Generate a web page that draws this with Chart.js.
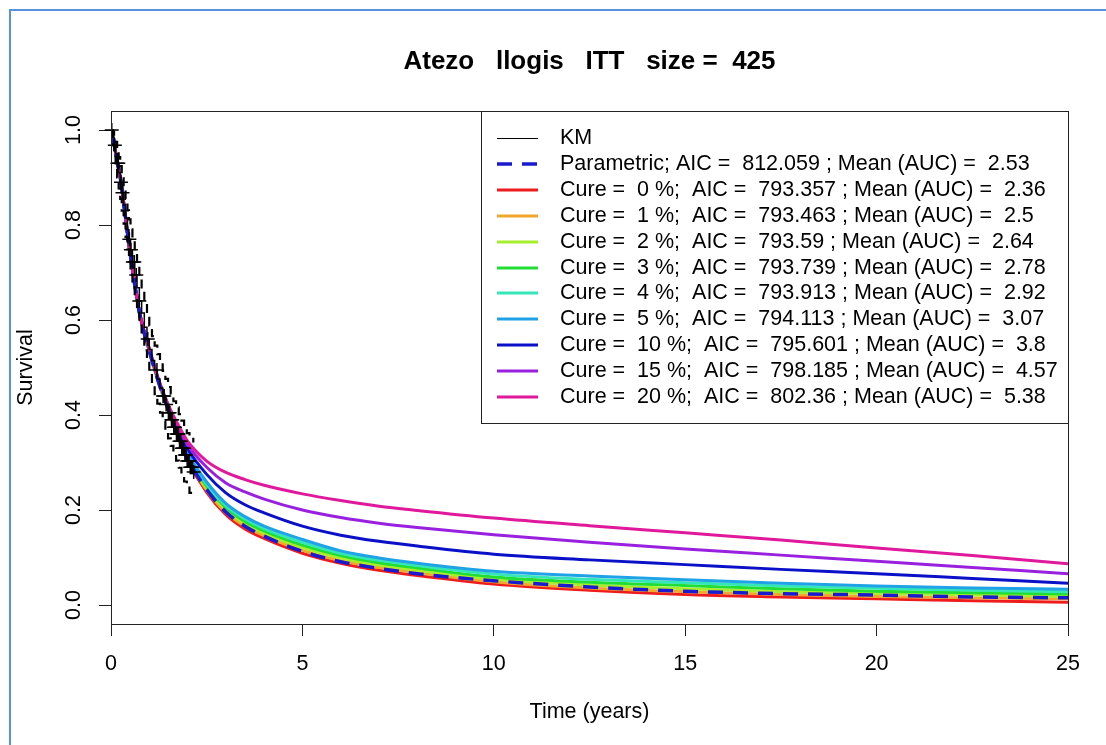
<!DOCTYPE html>
<html lang="en">
<head>
<meta charset="UTF-8">
<title>Atezo llogis ITT - survival extrapolation</title>
<script src="https://cdn.jsdelivr.net/npm/chart.js@4.4.0/dist/chart.umd.min.js"></script>
<style>
  html, body { margin: 0; padding: 0; background: #fff; overflow: hidden; }
  #wrap { position: relative; width: 1106px; height: 745px; }
  #frame { position: absolute; left: 9px; top: 9px; width: 1200px; height: 800px;
           border: 2px solid #5593dc; pointer-events: none; }
  canvas { position: absolute; left: 0; top: 0; }
</style>
</head>
<body>
<div id="wrap">
  <canvas id="survChart" width="1106" height="745"></canvas>
  <div id="frame"></div>
</div>
<script>
// ---- data ----
const mainTitle = 'Atezo   llogis   ITT   size =  425';
const xTicks = [0, 5, 10, 15, 20, 25];
const yTicks = [0, 0.2, 0.4, 0.6, 0.8, 1.0];

// time grid (years) for the fitted curves
const fitTime = [0, 0.25, 0.5, 0.75, 1, 1.25, 1.5, 1.75, 2, 2.5, 3, 3.5, 4, 5, 6, 7, 8, 10, 12.5, 15, 17.5, 20, 22.5, 25];

const survParam = [1, .895, .74, .612, .535, .467, .411, .357, .309, .243, .196, .166, .145, .113, .091, .077, .066, .051, .038, .029, .024, .021, .017, .015];
const cure0  = [1, .895, .74, .612, .535, .467, .410, .354, .305, .237, .190, .160, .140, .109, .088, .073, .062, .044, .031, .022, .017, .013, .009, .006];
const cure1  = [1, .895, .74, .612, .535, .467, .411, .356, .308, .242, .195, .166, .146, .115, .093, .079, .068, .049, .036, .028, .022, .018, .015, .013];
const cure2  = [1, .895, .74, .612, .535, .468, .412, .358, .311, .246, .200, .171, .151, .121, .099, .084, .073, .054, .042, .034, .028, .024, .021, .018];
const cure3  = [1, .895, .74, .612, .536, .468, .413, .360, .314, .250, .205, .176, .156, .126, .104, .089, .078, .059, .048, .041, .034, .029, .026, .023];
const cure4  = [1, .895, .74, .613, .536, .469, .414, .362, .317, .254, .209, .181, .161, .132, .109, .094, .083, .065, .054, .047, .040, .035, .031, .028];
const cure5  = [1, .895, .74, .613, .537, .470, .415, .364, .320, .259, .214, .186, .166, .138, .114, .099, .088, .071, .061, .053, .046, .040, .036, .033];
const cure10 = [1, .895, .74, .614, .538, .471, .417, .369, .329, .275, .236, .211, .194, .166, .147, .134, .124, .107, .095, .085, .075, .066, .056, .046];
const cure15 = [1, .895, .741, .614, .539, .472, .419, .374, .337, .290, .257, .238, .223, .200, .184, .172, .163, .148, .132, .118, .105, .092, .079, .066];
const cure20 = [1, .895, .741, .615, .540, .473, .421, .380, .345, .303, .279, .264, .252, .234, .220, .208, .199, .183, .167, .152, .137, .120, .104, .087];

const cureLevels = [0, 1, 2, 3, 4, 5, 10, 15, 20];
const cureAIC    = ['793.357', '793.463', '793.59', '793.739', '793.913', '794.113', '795.601', '798.185', '802.36'];
const cureMean   = ['2.36', '2.5', '2.64', '2.78', '2.92', '3.07', '3.8', '4.57', '5.38'];
const cureColors = ['#ee1c1c', '#f4a52c', '#a8ee2c', '#22dd33', '#34e6b8', '#20a2e6', '#0a10c8', '#9a20e0', '#e0189c'];
const paramAIC = '812.059';
const paramMean = '2.53';

// Kaplan-Meier estimate with pointwise confidence limits
const kmTime  = [0, 0.04, 0.08, 0.12, 0.16, 0.2, 0.24, 0.28, 0.33, 0.38, 0.43, 0.47, 0.51, 0.56, 0.62, 0.68, 0.74, 0.8, 0.87, 0.94, 1.0, 1.07, 1.14, 1.21, 1.28, 1.35, 1.42, 1.49, 1.56, 1.63, 1.7, 1.77, 1.84, 1.91, 1.98, 2.05, 2.15];
const kmSurv  = [1.0, 0.985, 0.968, 0.95, 0.93, 0.91, 0.89, 0.868, 0.842, 0.815, 0.79, 0.77, 0.748, 0.722, 0.695, 0.668, 0.64, 0.615, 0.585, 0.56, 0.538, 0.515, 0.495, 0.476, 0.457, 0.44, 0.422, 0.405, 0.39, 0.374, 0.36, 0.345, 0.33, 0.316, 0.303, 0.29, 0.28];
const kmUpper = [1.0, 0.997, 0.988, 0.975, 0.96, 0.943, 0.924, 0.904, 0.88, 0.855, 0.831, 0.812, 0.791, 0.766, 0.74, 0.714, 0.687, 0.663, 0.634, 0.61, 0.588, 0.566, 0.546, 0.528, 0.509, 0.493, 0.476, 0.459, 0.445, 0.429, 0.416, 0.402, 0.388, 0.375, 0.362, 0.35, 0.342];
const kmLower = [1.0, 0.97, 0.948, 0.925, 0.9, 0.877, 0.855, 0.83, 0.803, 0.775, 0.749, 0.728, 0.705, 0.678, 0.65, 0.622, 0.593, 0.567, 0.536, 0.51, 0.488, 0.464, 0.444, 0.424, 0.405, 0.387, 0.368, 0.351, 0.335, 0.319, 0.304, 0.289, 0.274, 0.26, 0.247, 0.236, 0.232];

// censored observations
const censTime = [0.02, 0.1, 0.17, 0.19, 0.26, 0.3, 0.48, 0.52, 0.57, 0.61, 0.66, 0.74, 0.96, 1.2, 1.36, 1.39, 1.44, 1.5, 1.53, 1.58, 1.6, 1.64, 1.67, 1.71, 1.74, 1.76, 1.79, 1.82, 1.85, 1.88, 1.9, 1.93, 1.96, 1.99, 2.02, 2.04, 2.07, 2.1, 2.13, 2.16];
const censSurv = [1.0, 0.968, 0.93, 0.93, 0.89, 0.868, 0.77, 0.748, 0.722, 0.722, 0.695, 0.64, 0.56, 0.495, 0.44, 0.44, 0.422, 0.405, 0.405, 0.39, 0.39, 0.374, 0.374, 0.36, 0.36, 0.36, 0.345, 0.345, 0.33, 0.33, 0.33, 0.316, 0.316, 0.303, 0.303, 0.303, 0.29, 0.29, 0.29, 0.28];

// ---- helpers ----
const toPts = (xs, ys) => xs.map((x, i) => ({ x: x, y: ys[i] }));
const FONT = '"Liberation Sans", Arial, Helvetica, sans-serif';
const FSIZE = 21.5;
const cureSeries = [cure0, cure1, cure2, cure3, cure4, cure5, cure10, cure15, cure20];

// lower "order" is drawn on top: KM bits, then the parametric fit, then cure fits (20% above 0%)
const datasets = [];
datasets.push({
  label: 'KM', legendText: 'KM', data: toPts(kmTime, kmSurv), order: 0,
  borderColor: '#000', borderWidth: 1.5, stepped: true, pointRadius: 0, clip: false
});
datasets.push({
  label: 'Parametric', order: 1,
  legendText: 'Parametric; AIC =  ' + paramAIC + ' ; Mean (AUC) =  ' + paramMean,
  data: toPts(fitTime, survParam),
  borderColor: '#1a1ad0', borderWidth: 3.5, borderDash: [15, 10],
  pointRadius: 0, cubicInterpolationMode: 'monotone'
});
cureLevels.forEach((c, i) => {
  datasets.push({
    label: 'Cure ' + c, order: 20 - i,
    legendText: 'Cure =  ' + c + ' %;  AIC =  ' + cureAIC[i] + ' ; Mean (AUC) =  ' + cureMean[i],
    data: toPts(fitTime, cureSeries[i]),
    borderColor: cureColors[i], borderWidth: 3,
    pointRadius: 0, cubicInterpolationMode: 'monotone'
  });
});
datasets.push(
  { label: 'censored', type: 'scatter', data: toPts(censTime, censSurv), order: 0,
    pointStyle: 'cross', pointRadius: 7, borderColor: '#000', borderWidth: 1.5,
    showLine: false, clip: false },
  { label: 'KM upper', data: toPts(kmTime, kmUpper), borderColor: '#000', borderWidth: 2.2, order: 0,
    borderDash: [9, 6], stepped: true, pointRadius: 0, clip: false },
  { label: 'KM lower', data: toPts(kmTime, kmLower), borderColor: '#000', borderWidth: 2.2, order: 0,
    borderDash: [9, 6], stepped: true, pointRadius: 0, clip: false }
);

// box around the plot region, main title and the legend in the top right corner
const plotDecor = {
  id: 'plotDecor',
  afterDatasetsDraw(chart) {
    const { ctx, chartArea: a } = chart;
    ctx.save();
    ctx.strokeStyle = '#222';
    ctx.lineWidth = 1;
    ctx.strokeRect(Math.round(a.left) + 0.5, Math.round(a.top) + 0.5,
                   Math.round(a.right - a.left), Math.round(a.bottom - a.top));

    // legend
    const rows = chart.data.datasets.filter(d => d.legendText);
    const boxW = 587, boxH = 312;
    const x0 = Math.round(a.right) - boxW, y0 = Math.round(a.top);
    ctx.fillStyle = '#fff';
    ctx.fillRect(x0, y0, boxW, boxH);
    ctx.strokeRect(x0 + 0.5, y0 + 0.5, boxW, boxH);
    ctx.font = FSIZE + 'px ' + FONT;
    ctx.textBaseline = 'middle';
    ctx.textAlign = 'left';
    rows.forEach((d, i) => {
      const y = Math.round(y0 + 27 + i * 25.9);
      const thin = d.label === 'KM';
      ctx.beginPath();
      ctx.setLineDash(d.borderDash || []);
      ctx.strokeStyle = d.borderColor;
      ctx.lineWidth = thin ? 1 : d.borderWidth;
      ctx.moveTo(x0 + 16, thin ? y + 0.5 : y);
      ctx.lineTo(x0 + 57, thin ? y + 0.5 : y);
      ctx.stroke();
      ctx.setLineDash([]);
      ctx.fillStyle = '#000';
      ctx.fillText(d.legendText, x0 + 79, y);
    });

    // main title
    ctx.font = 'bold 26px ' + FONT;
    ctx.textAlign = 'center';
    ctx.fillStyle = '#000';
    ctx.fillText(mainTitle, (a.left + a.right) / 2, 62);
    ctx.restore();
  }
};

new Chart(document.getElementById('survChart'), {
  type: 'line',
  data: { datasets: datasets },
  options: {
    responsive: false,
    animation: false,
    devicePixelRatio: 1,
    layout: { padding: { top: 111, right: 38, bottom: 0, left: 0 } },
    plugins: { legend: { display: false }, tooltip: { enabled: false }, title: { display: false } },
    elements: { line: { tension: 0 } },
    scales: {
      x: {
        type: 'linear', min: 0, max: 25,
        afterBuildTicks: s => { s.ticks = xTicks.map(v => ({ value: v })); },
        afterFit: s => { s.height = 121; },
        grid: { drawOnChartArea: false, tickLength: 12, color: '#222', lineWidth: 1 },
        border: { display: false },
        ticks: { padding: 15, maxRotation: 0, color: '#000', font: { family: FONT, size: FSIZE },
                 callback: v => String(v) },
        title: { display: true, text: 'Time (years)', color: '#000',
                 font: { family: FONT, size: FSIZE }, padding: { top: 0, bottom: 20 } }
      },
      y: {
        type: 'linear', min: -0.04, max: 1.04,
        afterBuildTicks: s => { s.ticks = yTicks.map(v => ({ value: v })); },
        afterFit: s => { s.width = 111; },
        grid: { drawOnChartArea: false, tickLength: 12, color: '#222', lineWidth: 1 },
        border: { display: false },
        ticks: { minRotation: 90, maxRotation: 90, crossAlign: 'center', padding: 10,
                 color: '#000', font: { family: FONT, size: FSIZE },
                 callback: v => v.toFixed(1) },
        title: { display: true, text: 'Survival', color: '#000',
                 font: { family: FONT, size: FSIZE }, padding: { top: 13, bottom: 0 } }
      }
    }
  },
  plugins: [plotDecor]
});
</script>
</body>
</html>
